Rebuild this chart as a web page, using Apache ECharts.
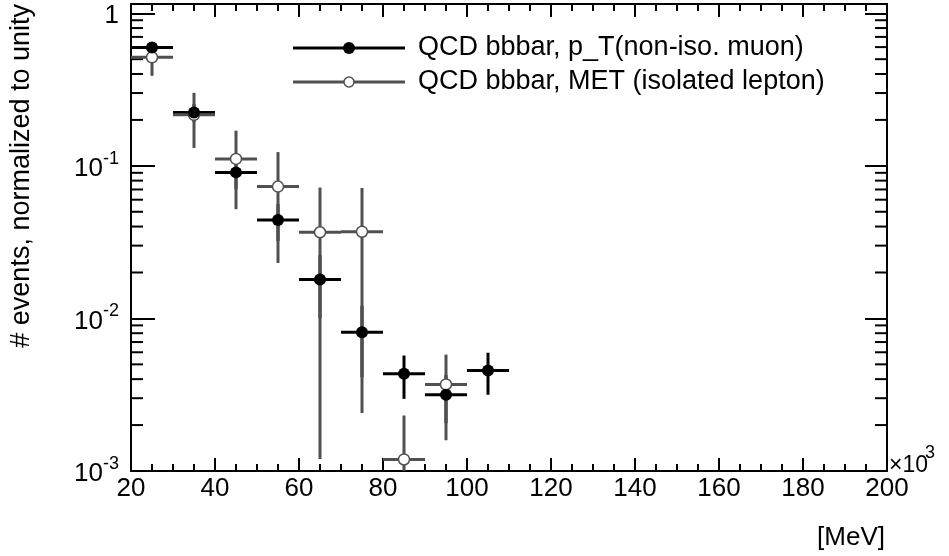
<!DOCTYPE html>
<html><head><meta charset="utf-8">
<script src="https://cdn.jsdelivr.net/npm/echarts@6/dist/echarts.min.js"></script>
<style>html,body{margin:0;padding:0;background:#fff}#c{width:949px;height:556px}</style>
</head><body><div id="c"></div>
<script>
// ---- data ----
const binCenters = [25, 35, 45, 55, 65, 75, 85, 95, 105];
const binHalfWidth = 5;
const muonValues = [0.597, 0.224, 0.0906, 0.0442, 0.0180, 0.00812, 0.00434, 0.00316, 0.00456];
const muonErrors = [0.04, 0.03, 0.02, 0.012, 0.008, 0.004, 0.00137, 0.0011, 0.0014];
const metCenters = [25, 35, 45, 55, 65, 75, 85, 95];
const metValues = [0.514, 0.216, 0.111, 0.0731, 0.0367, 0.0370, 0.00119, 0.00369];
const metErrors = [0.125, 0.085, 0.059, 0.050, 0.0355, 0.0346, 0.00112, 0.0021];
const yMinorTicks = [0.002,0.003,0.004,0.005,0.006,0.007,0.008,0.009,
                     0.02,0.03,0.04,0.05,0.06,0.07,0.08,0.09,
                     0.2,0.3,0.4,0.5,0.6,0.7,0.8,0.9];
const legendLabels = ['QCD bbbar, p_T(non-iso. muon)', 'QCD bbbar, MET (isolated lepton)'];
const yTitle = '# events, normalized to unity';
const xTitle = '[MeV]';
const xMin = 20, xMax = 200, xStep = 20;
const yMin = 0.001, yMax = 1.15;

const FONT = '"Liberation Sans", Arial, Helvetica, sans-serif';
const BLACK = '#000000';
const GRAY = '#505050';

function buildErr(centers, vals, errs) {
  return centers.map((c, i) => [c, vals[i], Math.max(vals[i] - errs[i], yMin), vals[i] + errs[i], c - binHalfWidth, c + binHalfWidth]);
}
function errRender(color, width) {
  return function (params, api) {
    const x = api.value(0), y = api.value(1), lo = api.value(2), hi = api.value(3), xl = api.value(4), xh = api.value(5);
    const pL = api.coord([xl, y]), pR = api.coord([xh, y]);
    const pB = api.coord([x, lo]), pT = api.coord([x, hi]);
    return {
      type: 'group', children: [
        { type: 'line', shape: { x1: pL[0], y1: pL[1], x2: pR[0], y2: pR[1] }, style: { stroke: color, lineWidth: width } },
        { type: 'line', shape: { x1: pB[0], y1: pB[1], x2: pT[0], y2: pT[1] }, style: { stroke: color, lineWidth: width } }
      ]
    };
  };
}
function minorTickRender(dir) {
  return function (params, api) {
    const p = api.coord([api.value(0), api.value(1)]);
    return { type: 'line', shape: { x1: p[0], y1: p[1], x2: p[0] + dir * 12, y2: p[1] }, style: { stroke: BLACK, lineWidth: 2 } };
  };
}
function yLabel(v) {
  const l = Math.log10(v);
  const e = Math.round(l);
  if (Math.abs(l - e) > 1e-6) return '';
  if (e === 0) return '{b|1}';
  return '{b|10}{sup|' + e + '}';
}

const chart = echarts.init(document.getElementById('c'), null, { renderer: 'canvas' });
const axisLineStyle = { lineStyle: { color: BLACK, width: 2 } };
const xAxisBase = {
  type: 'value', min: xMin, max: xMax, interval: xStep,
  axisLine: { show: true, onZero: false, ...axisLineStyle },
  axisTick: { show: true, inside: true, length: 13, lineStyle: { color: BLACK, width: 2 } },
  minorTick: { show: true, splitNumber: 4, length: 7, lineStyle: { color: BLACK, width: 2 } },
  splitLine: { show: false }
};
const yAxisBase = {
  type: 'log', logBase: 10, min: yMin, max: yMax, splitNumber: 3,
  axisLine: { show: true, onZero: false, ...axisLineStyle },
  splitLine: { show: false }
};

chart.setOption({
  animation: false,
  backgroundColor: '#ffffff',
  grid: { left: 131, right: 62, top: 4, bottom: 85, containLabel: false, outerBoundsMode: 'none' },
  xAxis: [
    Object.assign({}, xAxisBase, {
      position: 'bottom',
      axisLabel: { show: true, color: BLACK, fontSize: 26, fontFamily: FONT, margin: 5 }
    }),
    Object.assign({}, xAxisBase, { position: 'top', axisLabel: { show: false } })
  ],
  yAxis: [
    Object.assign({}, yAxisBase, {
      position: 'left',
      axisTick: { show: true, inside: true, length: 24, lineStyle: { color: BLACK, width: 2 } },
      axisLabel: {
        show: true, margin: 12, color: BLACK, fontFamily: FONT, formatter: yLabel,
        rich: {
          b: { fontSize: 26, fontFamily: FONT, color: BLACK, lineHeight: 32, verticalAlign: 'bottom' },
          sup: { fontSize: 18, fontFamily: FONT, color: BLACK, lineHeight: 32, verticalAlign: 'top' }
        }
      }
    }),
    Object.assign({}, yAxisBase, {
      position: 'right',
      axisTick: { show: true, inside: true, length: 22, lineStyle: { color: BLACK, width: 2 } },
      axisLabel: { show: false }
    })
  ],
  series: [
    {
      type: 'custom', name: 'yminor-left', xAxisIndex: 0, yAxisIndex: 0, silent: true,
      renderItem: minorTickRender(1), data: yMinorTicks.map(v => [xMin, v])
    },
    {
      type: 'custom', name: 'yminor-right', xAxisIndex: 0, yAxisIndex: 0, silent: true,
      renderItem: minorTickRender(-1), data: yMinorTicks.map(v => [xMax, v])
    },
    {
      type: 'custom', name: legendLabels[0] + ' err', xAxisIndex: 0, yAxisIndex: 0,
      renderItem: errRender(BLACK, 3), data: buildErr(binCenters, muonValues, muonErrors), z: 2
    },
    {
      type: 'custom', name: legendLabels[1] + ' err', xAxisIndex: 0, yAxisIndex: 0,
      renderItem: errRender(GRAY, 3), data: buildErr(metCenters, metValues, metErrors), z: 3
    },
    {
      type: 'scatter', name: legendLabels[1], xAxisIndex: 0, yAxisIndex: 0,
      symbol: 'circle', symbolSize: 11,
      itemStyle: { color: '#ffffff', borderColor: GRAY, borderWidth: 1.5, opacity: 1 },
      data: metCenters.map((c, i) => [c, metValues[i]]), z: 4
    },
    {
      type: 'scatter', name: legendLabels[0], xAxisIndex: 0, yAxisIndex: 0,
      symbol: 'circle', symbolSize: 12,
      itemStyle: { color: BLACK, opacity: 1 },
      data: binCenters.map((c, i) => [c, muonValues[i]]), z: 5
    }
  ],
  graphic: [
    { type: 'line', shape: { x1: 293, y1: 48, x2: 405, y2: 48 }, style: { stroke: BLACK, lineWidth: 3 } },
    { type: 'circle', shape: { cx: 349, cy: 48, r: 6 }, style: { fill: BLACK } },
    { type: 'text', x: 418, y: 48, style: { text: legendLabels[0], font: '27px ' + FONT, fill: BLACK, textAlign: 'left', textVerticalAlign: 'middle', align: 'left', verticalAlign: 'middle' } },
    { type: 'line', shape: { x1: 293, y1: 82, x2: 405, y2: 82 }, style: { stroke: GRAY, lineWidth: 3 } },
    { type: 'circle', shape: { cx: 349, cy: 82, r: 5 }, style: { fill: '#ffffff', stroke: GRAY, lineWidth: 1.5 } },
    { type: 'text', x: 418, y: 82, style: { text: legendLabels[1], font: '27px ' + FONT, fill: BLACK, textAlign: 'left', textVerticalAlign: 'middle', align: 'left', verticalAlign: 'middle' } },
    { type: 'text', x: 22, y: 4, rotation: Math.PI / 2, style: { text: yTitle, font: '27px ' + FONT, fill: BLACK, textAlign: 'right', textVerticalAlign: 'middle', align: 'right', verticalAlign: 'middle' } },
    { type: 'text', x: 885, y: 538, style: { text: xTitle, font: '26px ' + FONT, fill: BLACK, textAlign: 'right', textVerticalAlign: 'middle', align: 'right', verticalAlign: 'middle' } },
    { type: 'text', x: 889, y: 466, style: { text: '×10', font: '23px ' + FONT, fill: BLACK, textAlign: 'left', textVerticalAlign: 'middle', align: 'left', verticalAlign: 'middle' } },
    { type: 'text', x: 925, y: 453, style: { text: '3', font: '18px ' + FONT, fill: BLACK, textAlign: 'left', textVerticalAlign: 'middle', align: 'left', verticalAlign: 'middle' } }
  ]
});
</script>
</body></html>
